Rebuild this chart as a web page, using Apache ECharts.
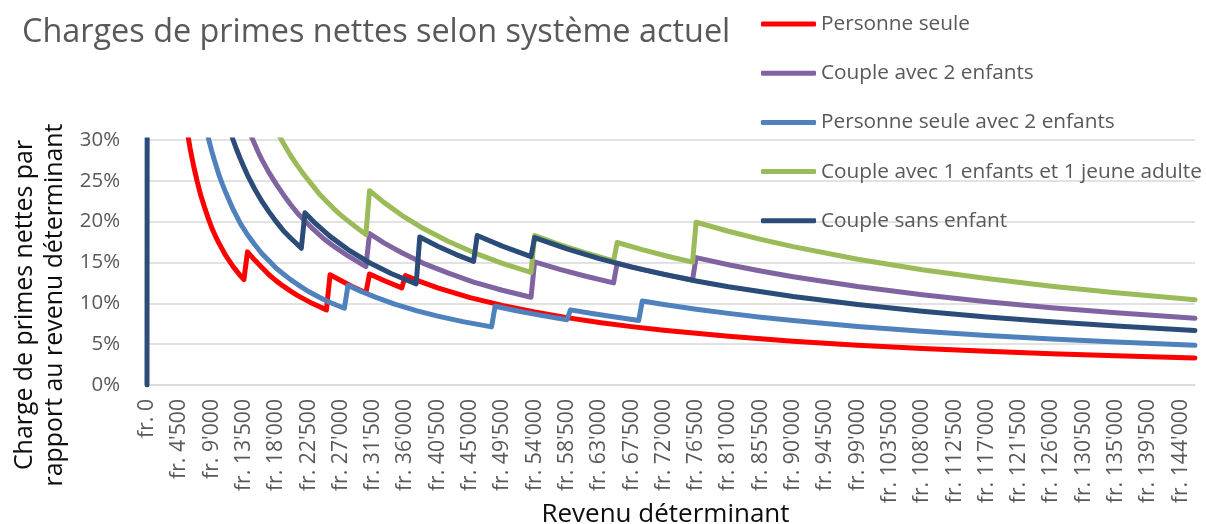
<!DOCTYPE html>
<html><head><meta charset="utf-8">
<script src="https://cdn.jsdelivr.net/npm/echarts@6/dist/echarts.min.js"></script>
<style>html,body{margin:0;padding:0;background:#fff}#c{width:1206px;height:524px}</style>
</head><body><div id="c"></div>
<script>
// ---- data (income in francs, charge in % of income) ----
const seriesNames = ['Personne seule', 'Couple avec 2 enfants', 'Personne seule avec 2 enfants', 'Couple avec 1 enfants et 1 jeune adulte', 'Couple sans enfant'];
const seriesColors = ['#FF0000', '#8064A2', '#4F81BD', '#9BBB59', '#2B4C78'];

const personneSeule = [
  [5500, 31.6], [6000, 29.0], [6500, 26.8], [7000, 24.9], [7500, 23.2], [8000, 21.8], [8500, 20.5], [9000, 19.3], [9500, 18.3], [10000, 17.4], [11000, 15.8], [12000, 14.5], [13000, 13.4], [13500, 12.9],
  [14000, 16.3], [15000, 15.3], [16000, 14.4], [17000, 13.5], [18000, 12.75], [19000, 12.1], [20000, 11.5], [21000, 10.95], [23000, 10.0], [25000, 9.2],
  [25500, 13.5], [27000, 12.8], [28500, 12.1], [30500, 11.3],
  [31000, 13.6], [33000, 12.8], [35500, 11.9],
  [36000, 13.4], [38000, 12.7], [40500, 11.9], [45000, 10.7], [49500, 9.75], [54000, 8.93], [58500, 8.25], [63000, 7.66], [67500, 7.15], [72000, 6.70], [81000, 5.96], [90000, 5.36], [99000, 4.87], [108000, 4.47], [117000, 4.12], [126000, 3.83], [135000, 3.57], [146000, 3.30]
];
const couple2Enfants = [
  [14000, 31.6], [14500, 30.5], [15000, 29.5], [15500, 28.5], [16000, 27.6], [17000, 26.0], [18000, 24.6], [19000, 23.3], [20000, 22.1], [21000, 21.0], [22000, 20.1], [23000, 19.2], [24500, 18.0], [26000, 17.0], [28000, 15.8], [30500, 14.5],
  [31000, 18.55], [33000, 17.4], [35500, 16.2], [38500, 14.9], [42000, 13.7], [45500, 12.6], [49500, 11.6], [53500, 10.75],
  [54000, 15.07], [57500, 14.15], [61000, 13.35], [65000, 12.5],
  [65500, 14.92], [69000, 14.16], [72500, 13.48], [76000, 12.86],
  [76500, 15.6], [81000, 14.73], [85500, 13.95], [90000, 13.26], [99000, 12.05], [108000, 11.05], [117000, 10.2], [126000, 9.47], [135000, 8.84], [146000, 8.17]
];
const personneSeule2Enfants = [
  [8500, 30.4], [9000, 28.7], [9500, 27.2], [10000, 25.8], [10500, 24.6], [11000, 23.5], [12000, 21.5], [13000, 19.8], [14000, 18.4], [15000, 17.2], [16000, 16.1], [17000, 15.2], [18000, 14.3], [19000, 13.6], [20000, 12.9], [21000, 12.3], [22500, 11.45], [24000, 10.75], [25500, 10.1], [27500, 9.4],
  [28000, 12.2], [30000, 11.4], [32000, 10.7], [34500, 9.9], [37500, 9.1], [40500, 8.43], [44000, 7.76], [48000, 7.12],
  [48500, 9.65], [51500, 9.09], [54500, 8.59], [58500, 8.0],
  [59000, 9.2], [62000, 8.75], [65000, 8.35], [68500, 7.9],
  [69000, 10.29], [72000, 9.86], [76500, 9.28], [81000, 8.77], [85500, 8.3], [90000, 7.89], [99000, 7.17], [108000, 6.57], [117000, 6.07], [126000, 5.63], [135000, 5.26], [146000, 4.86]
];
const couple1Enfant1JeuneAdulte = [
  [18000, 31.25], [18500, 30.4], [19000, 29.6], [20000, 28.1], [21000, 26.8], [22000, 25.6], [23000, 24.5], [24000, 23.4], [25000, 22.5], [26000, 21.6], [27000, 20.8], [28000, 20.1], [29000, 19.4], [30500, 18.44],
  [31000, 23.8], [33000, 22.36], [35500, 20.78], [38500, 19.16], [42000, 17.57], [45500, 16.22], [49500, 14.9], [53500, 13.79],
  [54000, 18.3], [57500, 17.19], [61000, 16.2], [65000, 15.2],
  [65500, 17.45], [69000, 16.57], [72500, 15.77], [76000, 15.04],
  [76500, 19.93], [81000, 18.83], [85500, 17.84], [90000, 16.94], [99000, 15.4], [108000, 14.12], [117000, 13.03], [126000, 12.1], [135000, 11.3], [146000, 10.45]
];
const coupleSansEnfant = [
  [0, 0], [500, 720], [11500, 31.3], [12000, 30.0], [12500, 28.8], [13000, 27.7], [13500, 26.7], [14000, 25.7], [15000, 24.0], [16000, 22.5], [17000, 21.2], [18000, 20.0], [19000, 18.9], [20000, 18.0], [21500, 16.74],
  [22000, 21.1], [23500, 19.75], [25500, 18.2], [28000, 16.58], [31000, 14.97], [34000, 13.65], [37500, 12.38],
  [38000, 18.13], [40500, 17.0], [43000, 16.0], [45500, 15.14],
  [46000, 18.3], [49500, 17.0], [53500, 15.73],
  [54000, 18.05], [58500, 16.66], [63000, 15.47], [67500, 14.44], [72000, 13.54], [76500, 12.74], [81000, 12.03], [90000, 10.83], [99000, 9.85], [108000, 9.03], [117000, 8.33], [126000, 7.74], [135000, 7.22], [146000, 6.68]
];
const seriesData = [personneSeule, couple2Enfants, personneSeule2Enfants, couple1Enfant1JeuneAdulte, coupleSansEnfant];

const xMin = 0, xMax = 146000, xStep = 4500, xLastLabel = 144000;
const yMin = 0, yMax = 30, yStep = 5;

const FONT = "'Open Sans', 'Noto Sans', sans-serif";
const chart = echarts.init(document.getElementById('c'), null, { renderer: 'canvas' });

function fr(v) {
  if (v % xStep !== 0 || v > xLastLabel) return '';
  return 'fr. ' + String(v).replace(/\B(?=(\d{3})+(?!\d))/g, "'");
}

chart.setOption({
  animation: false,
  backgroundColor: '#ffffff',
  title: {
    text: 'Charges de primes nettes selon système actuel',
    left: 22, top: 17, padding: 0,
    textStyle: { fontFamily: FONT, fontSize: 32.4, fontWeight: 'normal', color: '#595959' }
  },
  legend: {
    data: seriesNames,
    orient: 'vertical',
    left: 761, top: 12, padding: 0,
    itemWidth: 55, itemHeight: 5, itemGap: 25.2,
    icon: 'roundRect',
    textStyle: { fontFamily: FONT, fontSize: 20.8, color: '#595959', lineHeight: 24 }
  },
  grid: { left: 147, right: 11, top: 140, bottom: 139, containLabel: false, outerBoundsMode: 'none' },
  xAxis: {
    type: 'value', min: xMin, max: xMax, interval: xStep,
    name: 'Revenu déterminant', nameLocation: 'middle', nameGap: 117, nameMoveOverlap: false,
    nameTextStyle: { fontFamily: FONT, fontSize: 26, color: '#0d0d0d', padding: [0, 11, 0, 0] },
    axisLine: { show: true, lineStyle: { color: '#D9D9D9', width: 1.5 } },
    axisTick: { show: false },
    splitLine: { show: false },
    axisLabel: { rotate: 90, margin: 14, fontFamily: FONT, fontSize: 21.2, color: '#595959', formatter: fr, showMinLabel: true, showMaxLabel: true }
  },
  yAxis: {
    type: 'value', min: yMin, max: yMax, interval: yStep,
    axisLine: { show: false }, axisTick: { show: false },
    splitLine: { lineStyle: { color: '#D9D9D9', width: 1.5 } },
    axisLabel: { margin: 27, fontFamily: FONT, fontSize: 20.4, color: '#595959', formatter: '{value}%' }
  },
  graphic: [{
    type: 'text', x: 40, y: 305, rotation: Math.PI / 2,
    style: {
      text: 'Charge de primes nettes par\nrapport au revenu déterminant',
      fontFamily: FONT, fontSize: 24.9, fill: '#0d0d0d',
      align: 'center', verticalAlign: 'middle', textAlign: 'center', textVerticalAlign: 'middle', lineHeight: 30
    }
  }],
  series: seriesNames.map((name, i) => ({
    name, type: 'line', data: seriesData[i],
    symbol: 'none', showSymbol: false, clip: true,
    color: seriesColors[i],
    itemStyle: { color: seriesColors[i] },
    lineStyle: { color: seriesColors[i], width: 5, cap: 'round', join: 'round' },
    emphasis: { disabled: true }
  }))
});
</script></body></html>
